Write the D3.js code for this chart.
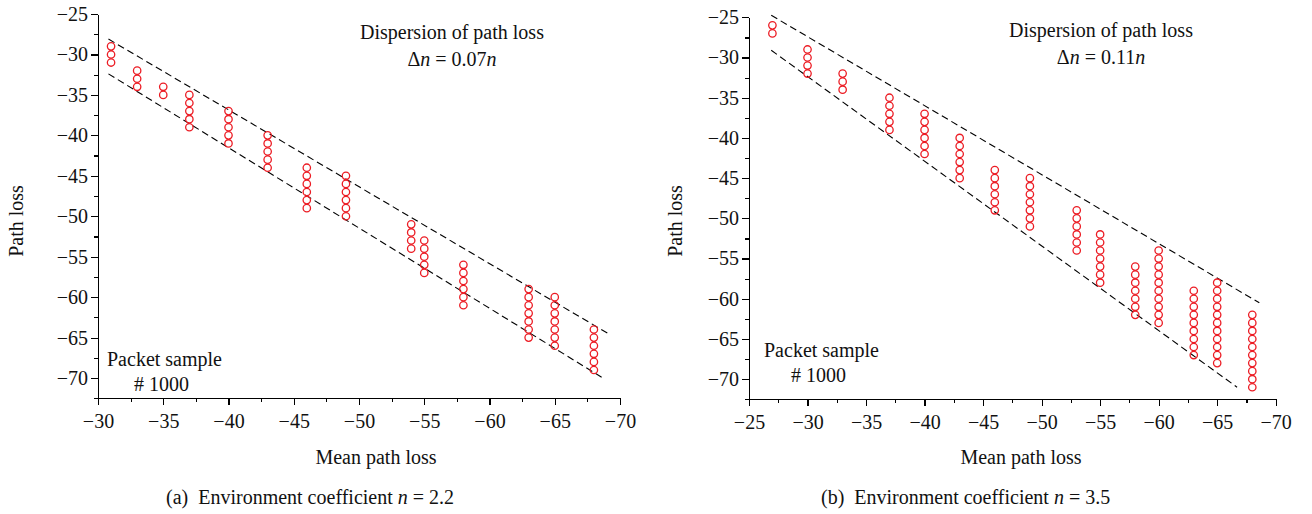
<!DOCTYPE html>
<html>

<head>
    <meta charset="utf-8">
    <title>path loss dispersion</title>
    <style>
    body {
        margin: 0;
        background: #fff;
    }

    svg text {
        font-family: "Liberation Serif", "Times New Roman", serif;
        fill: #111;
    }

    g.axis path.domain,
    g.axis line {
        stroke: #000;
        stroke-width: 1.2;
        shape-rendering: crispEdges;
    }

    path.bound {
        fill: none;
        stroke: #000;
        stroke-width: 1.1;
        stroke-dasharray: 7, 4;
    }

    circle.pt {
        fill: none;
        stroke: #ec1c24;
        stroke-width: 1.3;
    }
    </style>
</head>

<body>
    <svg id="fig" width="1312" height="514"></svg>
    <script src="https://d3js.org/d3.v7.min.js"></script>
    <script>
    // (a) n = 2.2 : mean path loss per column, and the measured path losses in it
    let meanA = [-31, -33, -35, -37, -40, -43, -46, -49, -54, -55, -58, -63, -65, -68];
    let lossA = [
        [-29, -30, -31],
        [-32, -33, -34],
        [-34, -35],
        [-35, -36, -37, -38, -39],
        [-37, -38, -39, -40, -41],
        [-40, -41, -42, -43, -44],
        [-44, -45, -46, -47, -48, -49],
        [-45, -46, -47, -48, -49, -50],
        [-51, -52, -53, -54],
        [-53, -54, -55, -56, -57],
        [-56, -57, -58, -59, -60, -61],
        [-59, -60, -61, -62, -63, -64, -65],
        [-60, -61, -62, -63, -64, -65, -66],
        [-64, -65, -66, -67, -68, -69]
    ];
    // dashed bounds: [mean, loss] end points
    let upperA = [[-30.8, -28.1], [-69.1, -64.5]];
    let lowerA = [[-30.8, -32.4], [-68.7, -70.0]];

    // (b) n = 3.5
    let meanB = [-27, -30, -33, -37, -40, -43, -46, -49, -53, -55, -58, -60, -63, -65, -68];
    let lossB = [
        [-26, -27],
        [-29, -30, -31, -32],
        [-32, -33, -34],
        [-35, -36, -37, -38, -39],
        [-37, -38, -39, -40, -41, -42],
        [-40, -41, -42, -43, -44, -45],
        [-44, -45, -46, -47, -48, -49],
        [-45, -46, -47, -48, -49, -50, -51],
        [-49, -50, -51, -52, -53, -54],
        [-52, -53, -54, -55, -56, -57, -58],
        [-56, -57, -58, -59, -60, -61, -62],
        [-54, -55, -56, -57, -58, -59, -60, -61, -62, -63],
        [-59, -60, -61, -62, -63, -64, -65, -66, -67],
        [-58, -59, -60, -61, -62, -63, -64, -65, -66, -67, -68],
        [-62, -63, -64, -65, -66, -67, -68, -69, -70, -71]
    ];
    let upperB = [[-26.9, -24.75], [-68.6, -60.5]];
    let lowerB = [[-26.9, -29.1], [-66.7, -71.0]];

    let yTicks = [-25, -30, -35, -40, -45, -50, -55, -60, -65, -70];
    let xTicksA = [-30, -35, -40, -45, -50, -55, -60, -65, -70];
    let xTicksB = [-25, -30, -35, -40, -45, -50, -55, -60, -65, -70];

    let svg = d3.select('svg#fig');

    let serif = '"Liberation Serif", "Times New Roman", serif';

    let panel = function(def) {
        let g = svg.append('g');
        let x = d3.scaleLinear().domain(def.xdom).range(def.xr);
        // yr = [top, bottom] in pixels
        let y = d3.scaleLinear().domain([-25, -72.5]).range(def.yr);
        let bottom = def.yr[1];

        // minor ticks every 2.5
        let minorX = d3.range(def.xdom[0], def.xdom[1] - 0.1, -2.5);
        let minorY = d3.range(-25, -72.6, -2.5);
        g.append('g').attr('class', 'axis')
            .attr('transform', 'translate(0,' + bottom + ')')
            .call(d3.axisBottom(x).tickValues(minorX).tickSize(4).tickFormat(''))
            .select('path.domain').remove();
        g.append('g').attr('class', 'axis')
            .attr('transform', 'translate(' + def.xr[0] + ',0)')
            .call(d3.axisLeft(y).tickValues(minorY).tickSize(4).tickFormat(''))
            .select('path.domain').remove();

        let xa = g.append('g').attr('class', 'axis')
            .attr('transform', 'translate(0,' + bottom + ')')
            .call(d3.axisBottom(x).tickValues(def.xticks).tickSizeInner(7).tickSizeOuter(0).tickPadding(9));
        let ya = g.append('g').attr('class', 'axis')
            .attr('transform', 'translate(' + def.xr[0] + ',0)')
            .call(d3.axisLeft(y).tickValues(yTicks).tickSizeInner(7).tickSizeOuter(0).tickPadding(3));
        [xa, ya].forEach(function(a) {
            a.attr('font-family', serif).attr('font-size', 20);
            a.selectAll('text').style('font-family', serif).style('font-size', '20px');
        });

        let line = d3.line().x(d => x(d[0])).y(d => y(d[1]));
        g.append('path').attr('class', 'bound').attr('d', line(def.upper));
        g.append('path').attr('class', 'bound').attr('d', line(def.lower));

        let pts = [];
        def.mean.forEach(function(m, i) {
            def.loss[i].forEach(function(v) { pts.push([m, v]); });
        });
        g.selectAll('circle.pt').data(pts).enter()
            .append('circle')
            .attr('class', 'pt')
            .attr('cx', d => x(d[0]))
            .attr('cy', d => y(d[1]))
            .attr('r', 3.7);

        // labels
        g.append('text').attr('text-anchor', 'middle').attr('font-size', 20)
            .attr('x', def.titleX).attr('y', def.titleY)
            .text('Dispersion of path loss');
        let dn = g.append('text').attr('text-anchor', 'middle').attr('font-size', 20)
            .attr('x', def.titleX).attr('y', def.titleY + 27);
        dn.append('tspan').text('\u0394');
        dn.append('tspan').attr('font-style', 'italic').text('n');
        dn.append('tspan').text(' = ' + def.dn);
        dn.append('tspan').attr('font-style', 'italic').text('n');

        g.append('text').attr('font-size', 20)
            .attr('x', def.packX).attr('y', def.packY)
            .text('Packet sample');
        g.append('text').attr('font-size', 20)
            .attr('x', def.packX + 27).attr('y', def.packY + 25)
            .text('# 1000');

        g.append('text').attr('font-size', 20).attr('text-anchor', 'middle')
            .attr('transform', 'translate(' + def.ylabX + ',221) rotate(-90)')
            .text('Path loss');
        g.append('text').attr('font-size', 20).attr('text-anchor', 'middle')
            .attr('x', def.xlabX).attr('y', 464)
            .text('Mean path loss');

        let cap = g.append('text').attr('font-size', 20)
            .attr('x', def.capX).attr('y', 504);
        cap.append('tspan').text(def.tag + '\u2002Environment coefficient ');
        cap.append('tspan').attr('font-style', 'italic').text('n');
        cap.append('tspan').text(' = ' + def.n);
    };

    panel({
        xdom: [-30, -70], xr: [98, 620], yr: [14, 398.3],
        xticks: xTicksA, mean: meanA, loss: lossA, upper: upperA, lower: lowerA,
        titleX: 452, titleY: 39, dn: '0.07',
        packX: 107, packY: 366, ylabX: 23, xlabX: 376,
        capX: 166, tag: '(a)', n: '2.2'
    });

    panel({
        xdom: [-25, -70], xr: [749, 1275.7], yr: [17.3, 399.3],
        xticks: xTicksB, mean: meanB, loss: lossB, upper: upperB, lower: lowerB,
        titleX: 1101, titleY: 37, dn: '0.11',
        packX: 764, packY: 357, ylabX: 682, xlabX: 1021,
        capX: 821, tag: '(b)', n: '3.5'
    });
    </script>
</body>

</html>
